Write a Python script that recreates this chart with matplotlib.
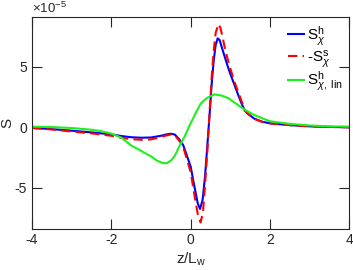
import numpy as np
import matplotlib
matplotlib.use("Agg")
import matplotlib.pyplot as plt

plt.rcParams['font.family'] = ['Liberation Sans', 'DejaVu Sans']
plt.rcParams['mathtext.fontset'] = 'custom'
plt.rcParams['mathtext.rm'] = 'Liberation Sans'
plt.rcParams['mathtext.it'] = 'Liberation Sans:italic'
plt.rcParams['axes.unicode_minus'] = False

# values in units of 1e-5
x_h = [-4, -3.5, -3, -2.5, -2, -1.75, -1.5, -1.25, -1, -0.75, -0.6, -0.5, -0.4, -0.3,
       -0.19, -0.1, 0, 0.1, 0.18, 0.235, 0.3, 0.36, 0.42, 0.48, 0.53, 0.58, 0.63, 0.68,
       0.73, 0.78, 0.85, 0.95, 1.0, 1.12, 1.2, 1.28, 1.37, 1.45, 1.6, 1.8, 2, 2.5, 3, 3.5, 4]
s_h = [-0.05, -0.15, -0.28, -0.42, -0.58, -0.72, -0.82, -0.86, -0.84, -0.7, -0.58, -0.53,
       -0.6, -0.95, -1.46, -2.3, -3.25, -5.0, -6.3, -6.74, -6.0, -4.1, -1.5, 1.2, 3.6, 5.5,
       6.8, 7.34, 7.2, 6.65, 5.9, 4.87, 4.4, 3.35, 2.65, 1.98, 1.35, 1.1, 0.72, 0.46, 0.33,
       0.18, 0.08, 0.03, 0.0]

x_s = [-4, -3.5, -3, -2.5, -2, -1.75, -1.5, -1.25, -1, -0.75, -0.6, -0.5, -0.4, -0.3,
       -0.19, -0.1, 0, 0.1, 0.18, 0.25, 0.31, 0.36, 0.42, 0.48, 0.53, 0.58, 0.63, 0.7,
       0.75, 0.8, 0.87, 0.95, 1.05, 1.12, 1.2, 1.28, 1.37, 1.45, 1.6, 1.8, 2, 2.5, 3, 3.5, 4]
s_s = [-0.05, -0.18, -0.35, -0.5, -0.7, -0.86, -0.98, -1.03, -1.0, -0.8, -0.66, -0.6,
       -0.68, -1.05, -1.6, -2.6, -3.7, -5.7, -7.2, -7.85, -7.0, -4.8, -2.0, 1.5, 4.2, 6.3,
       7.8, 8.52, 8.2, 7.5, 6.4, 5.4, 4.3, 3.6, 2.9, 2.17, 1.4, 1.1, 0.7, 0.45, 0.32, 0.18,
       0.08, 0.03, 0.0]

x_lin = [-4, -3.5, -3, -2.5, -2.25, -2, -1.75, -1.5, -1.25, -1, -0.85, -0.7, -0.6, -0.5,
         -0.4, -0.27, -0.15, -0.05, 0.1, 0.25, 0.4, 0.6, 0.8, 0.95, 1.1, 1.25, 1.4, 1.6,
         1.8, 2, 2.5, 3, 3.5, 4]
s_lin = [0.05, 0.02, -0.06, -0.2, -0.33, -0.52, -0.85, -1.5, -1.95, -2.4, -2.75, -2.95,
         -2.96, -2.75, -2.35, -1.46, -0.75, 0.0, 1.0, 1.95, 2.4, 2.72, 2.6, 2.4, 2.05,
         1.7, 1.38, 1.02, 0.75, 0.5, 0.28, 0.15, 0.08, 0.05]

fig = plt.figure(figsize=(3.53, 2.70), dpi=100)
ax = fig.add_axes([0.0907, 0.1537, 0.899, 0.7833])

ax.plot(x_h, s_h, color=(0, 0, 1), lw=1.5, label=r'S$^{\rm h}_{\chi}$')
ax.plot(x_s, s_s, color=(1, 0, 0), lw=1.5, dashes=(4.5, 2.5), label=r'-S$^{\rm s}_{\chi}$')
ax.plot(x_lin, s_lin, color=(0.1, 0.95, 0.1), lw=1.5,
        label=r'S$^{\rm h}_{\chi,\ {\rm lin}}$')

ax.set_xlim(-4, 4)
ax.set_ylim(-8.35, 9.1)
ax.set_xticks([-4, -2, 0, 2, 4])
ax.set_yticks([-5, 0, 5])
ax.tick_params(direction='in', length=7, top=True, right=True, labelsize=10,
               colors='0.15', width=0.8)
for sp in ax.spines.values():
    sp.set_color('0.15')
    sp.set_linewidth(0.8)

ax.set_xlabel(r'z/L$_{\rm w}$', fontsize=11, color='0.15', labelpad=2)
ax.set_ylabel('S', fontsize=11, color='0.15', labelpad=0)
ax.text(0.0, 1.005, r'$\times$10$^{-5}$', transform=ax.transAxes, fontsize=9.5,
        color='0.15', va='bottom', ha='left')

ax.legend(loc='upper right', bbox_to_anchor=(1.0, 1.0), frameon=False, fontsize=11,
          handlelength=1.0, handletextpad=0.2, labelspacing=0.0, borderaxespad=0.25,
          borderpad=0.2)

fig.savefig('out.png', dpi=100)
